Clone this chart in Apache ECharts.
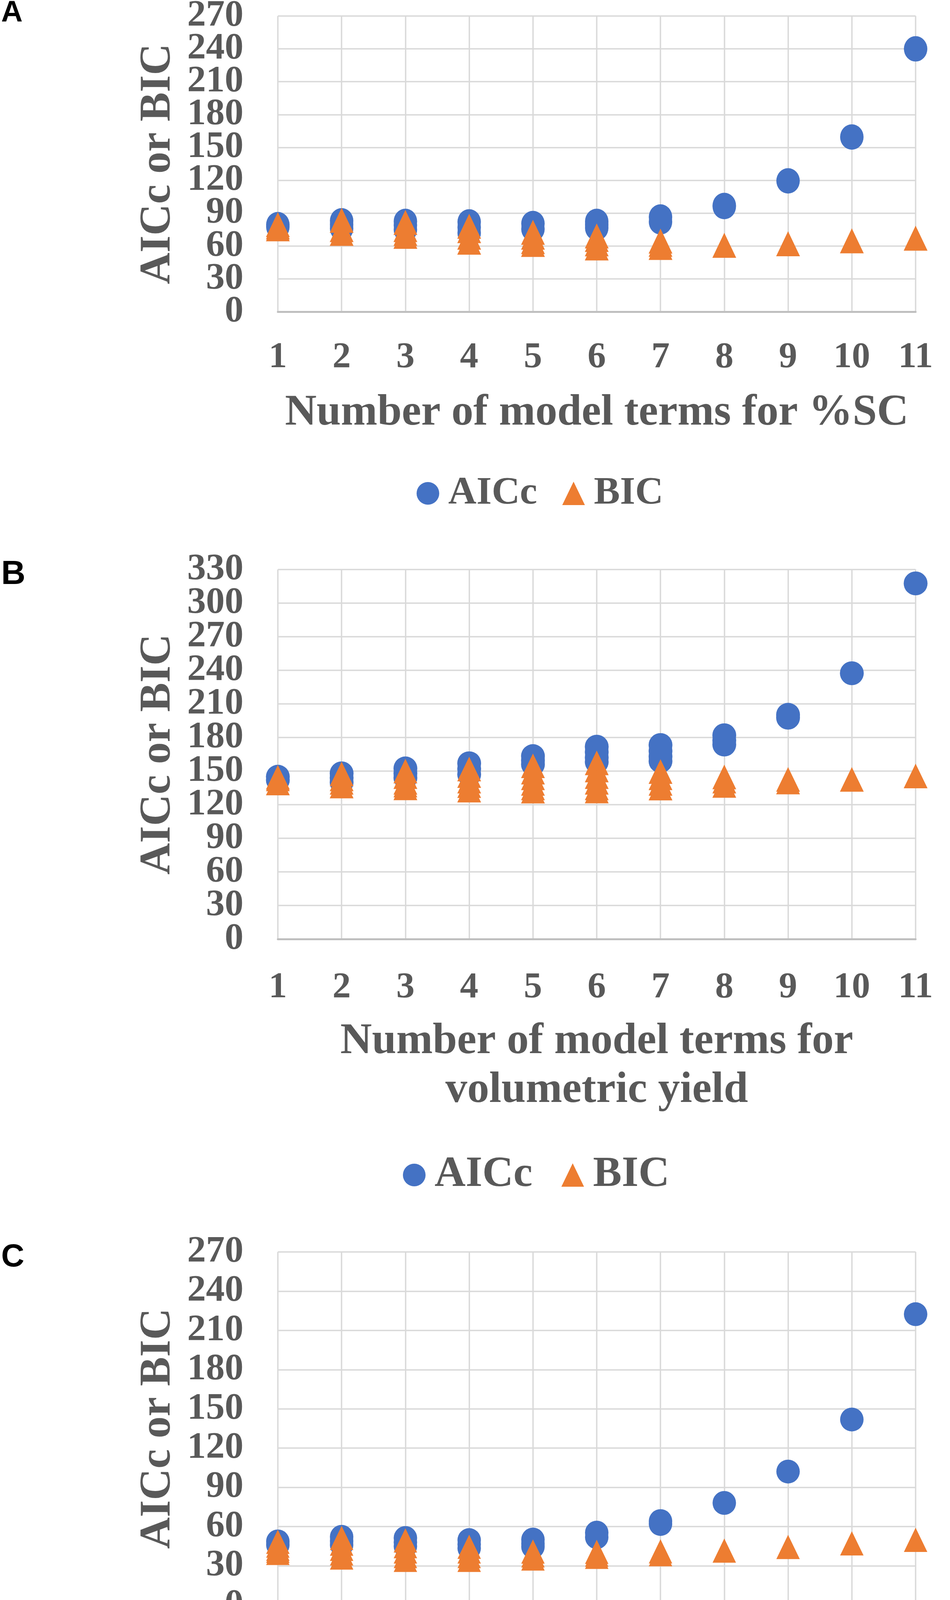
<!DOCTYPE html>
<html>
<head>
<meta charset="utf-8">
<script src="https://cdn.jsdelivr.net/npm/echarts@6/dist/echarts.min.js"></script>
<style>
  html, body { margin: 0; padding: 0; background: #fff; }
  #main { width: 2431px; height: 4744px; }
</style>
</head>
<body>
<div id="main"></div>
<script>
var terms = [1, 2, 3, 4, 5, 6, 7, 8, 9, 10, 11];

// A: %SC  (several candidate models per number of terms)
var aiccA = [[79.5, 77.5], [83, 79.5, 76], [82.5, 79, 75], [82, 77, 72], [80.5, 75.5],
  [82.5, 79.5, 76.5], [86.5, 82], [97, 96], [119.5], [159.5], [240]];
var bicA = [[79.5, 77.5, 75.7], [83.5, 75, 71.5], [81.5, 75, 71.5, 68.8], [78, 74, 68, 63.5],
  [72.5, 68, 64, 61.4], [69.2, 66, 62, 58.2], [64.5, 61.5, 58.7], [60.6], [62.1], [64.7], [67.1]];

// B: volumetric yield
var aiccB = [[145, 142], [148, 144, 140], [152.4, 148, 144], [157, 152, 147], [163.4, 159.5, 156],
  [171.8, 167, 162, 158.2], [173.3, 168, 163, 158.9], [182, 177.5, 173.7], [200.3, 197.7], [237.4], [317.6]];
var bicB = [[144.5, 143, 139.4], [147.5, 143, 140, 136.7], [150, 145, 140, 137.5, 135],
  [151.8, 146, 141, 137, 133], [154.7, 149, 144, 139, 135, 132.1], [157.3, 151, 145, 140, 135, 132.2],
  [149.6, 144, 139, 134.8], [144.8, 141, 137.2], [142.6, 140.2], [142.6], [145.6]];

// C: specific yield
var aiccC = [[48.7, 46], [52.2, 49, 46], [51.3, 48, 45], [49.7, 46.5, 43.5], [50.1, 47, 44.6],
  [55.4, 51.9], [64.2, 62], [78.1], [102.1], [141.9], [222.4]];
var bicC = [[48.4, 45.5, 43, 41.5, 39.9], [51.3, 47, 43, 39.5, 36.4], [49.4, 45, 41, 37.5, 34.6],
  [44.6, 41, 37.5, 34.6], [40.9, 38, 35.6], [40.7, 38.5, 36.9], [41.1, 38.9], [41.7], [44.4], [47.2], [49.9]];

// y tick labels
var yTicksA = [0, 30, 60, 90, 120, 150, 180, 210, 240, 270];
var yTicksB = [0, 30, 60, 90, 120, 150, 180, 210, 240, 270, 300, 330];
var yTicksC = [0, 30, 60, 90, 120, 150, 180, 210, 240, 270];

var xTitles = [
  'Number of model terms for %SC',
  'Number of model terms for\nvolumetric yield',
  'Number of model terms for specific\nyield'
];
var yTitle = 'AICc or BIC';
var panelLetters = ['A', 'B', 'C'];

var serif = "'Liberation Serif', 'Times New Roman', serif";
var gray = '#595959';
var blue = '#4472C4';
var orange = '#ED7D31';

function pairs(list) {
  var out = [];
  list.forEach(function (vals, i) {
    vals.forEach(function (v) { out.push([terms[i], v]); });
  });
  return out;
}

var grids = [
  { left: 711, top: 41, width: 1632, height: 757 },
  { left: 711, top: 1458, width: 1632, height: 946 },
  { left: 711, top: 3205, width: 1632, height: 904 }
];
var xLabelMargin = [71, 78, 73];
var xNameGap = [198, 201, 198];
var letters = [
  { top: -4, size: 76 },
  { top: 1428, size: 86 },
  { top: 3178, size: 82 }
];
var legendPos = [
  { left: 1061, top: 1208, size: 100, gap: 64 },
  { left: 1026, top: 2948, size: 110, gap: 74 },
  { left: 1026, top: 4647, size: 110, gap: 74 }
];
var circleSize = [[60, 65], [61, 61], [60, 61]];
var triSize = [[61, 64], [61, 63], [60, 62]];
var aiccSets = [aiccA, aiccB, aiccC];
var bicSets = [bicA, bicB, bicC];
var tickSets = [yTicksA, yTicksB, yTicksC];

var labelStyle = {
  margin: 88, fontFamily: serif, fontWeight: 'bold', fontSize: 96, color: gray,
  showMinLabel: true, showMaxLabel: true, hideOverlap: false
};

var myChart = echarts.init(document.getElementById('main'), null, { renderer: 'canvas' });

// two value axes per panel share one scale; labels alternate between them so
// the tightly packed tick labels are all kept
var yAxes = [];
grids.forEach(function (g, i) {
  var ticks = tickSets[i];
  var step = ticks[1] - ticks[0];
  var base = {
    type: 'value', gridIndex: i, position: 'left', offset: 0,
    min: ticks[0], max: ticks[ticks.length - 1], interval: step,
    axisLine: { show: false }, axisTick: { show: false }
  };
  yAxes.push(Object.assign({}, base, {
    name: yTitle, nameLocation: 'middle', nameGap: 250, nameMoveOverlap: false,
    nameTextStyle: { fontFamily: serif, fontWeight: 'bold', fontSize: 112, color: gray },
    axisLabel: Object.assign({ customValues: ticks.filter(function (t, k) { return k % 2 === 0; }) }, labelStyle),
    splitLine: { show: true, lineStyle: { color: '#d9d9d9', width: 3.5 } }
  }));
  yAxes.push(Object.assign({}, base, {
    axisLabel: Object.assign({ customValues: ticks.filter(function (t, k) { return k % 2 === 1; }) }, labelStyle),
    splitLine: { show: false }
  }));
});

var option = {
  backgroundColor: '#fff',
  animation: false,
  grid: grids.map(function (g) {
    return Object.assign({ containLabel: false, outerBoundsMode: 'none' }, g);
  }),
  xAxis: grids.map(function (g, i) {
    return {
      type: 'value', gridIndex: i, min: 1, max: 11, interval: 1,
      name: xTitles[i], nameLocation: 'middle', nameGap: xNameGap[i], nameMoveOverlap: false,
      nameTextStyle: { fontFamily: serif, fontWeight: 'bold', fontSize: 112, color: gray, lineHeight: 125 },
      axisLine: { show: true, onZero: false, lineStyle: { color: '#bfbfbf', width: 5 } },
      axisTick: { show: false },
      axisLabel: {
        margin: xLabelMargin[i], fontFamily: serif, fontWeight: 'bold', fontSize: 94, color: gray,
        showMinLabel: true, showMaxLabel: true, hideOverlap: false
      },
      splitLine: { show: true, lineStyle: { color: '#d9d9d9', width: 3.5 } }
    };
  }),
  yAxis: yAxes,
  legend: legendPos.map(function (p) {
    return {
      left: p.left, top: p.top, orient: 'horizontal',
      itemWidth: 58, itemHeight: 60, itemGap: p.gap,
      data: [{ name: 'AICc', icon: 'circle' }, { name: 'BIC', icon: 'triangle' }],
      textStyle: { fontFamily: serif, fontWeight: 'bold', fontSize: p.size, color: gray, padding: [0, 0, 0, 18] },
      selectedMode: false
    };
  }),
  graphic: panelLetters.map(function (t, i) {
    return {
      type: 'text', left: 3, top: letters[i].top,
      style: {
        text: t, fontFamily: "'Liberation Sans', Arial, sans-serif", fontWeight: 'bold',
        fontSize: letters[i].size, fill: '#000'
      }
    };
  }),
  series: []
};

grids.forEach(function (g, i) {
  option.series.push({
    type: 'scatter', name: 'AICc', xAxisIndex: i, yAxisIndex: 2 * i,
    data: pairs(aiccSets[i]), symbol: 'circle', symbolSize: circleSize[i],
    itemStyle: { color: blue, opacity: 1 }, z: 2
  });
  option.series.push({
    type: 'scatter', name: 'BIC', xAxisIndex: i, yAxisIndex: 2 * i,
    data: pairs(bicSets[i]), symbol: 'triangle', symbolSize: triSize[i],
    itemStyle: { color: orange, opacity: 1 }, z: 3
  });
});

option && myChart.setOption(option);
</script>
</body>
</html>
